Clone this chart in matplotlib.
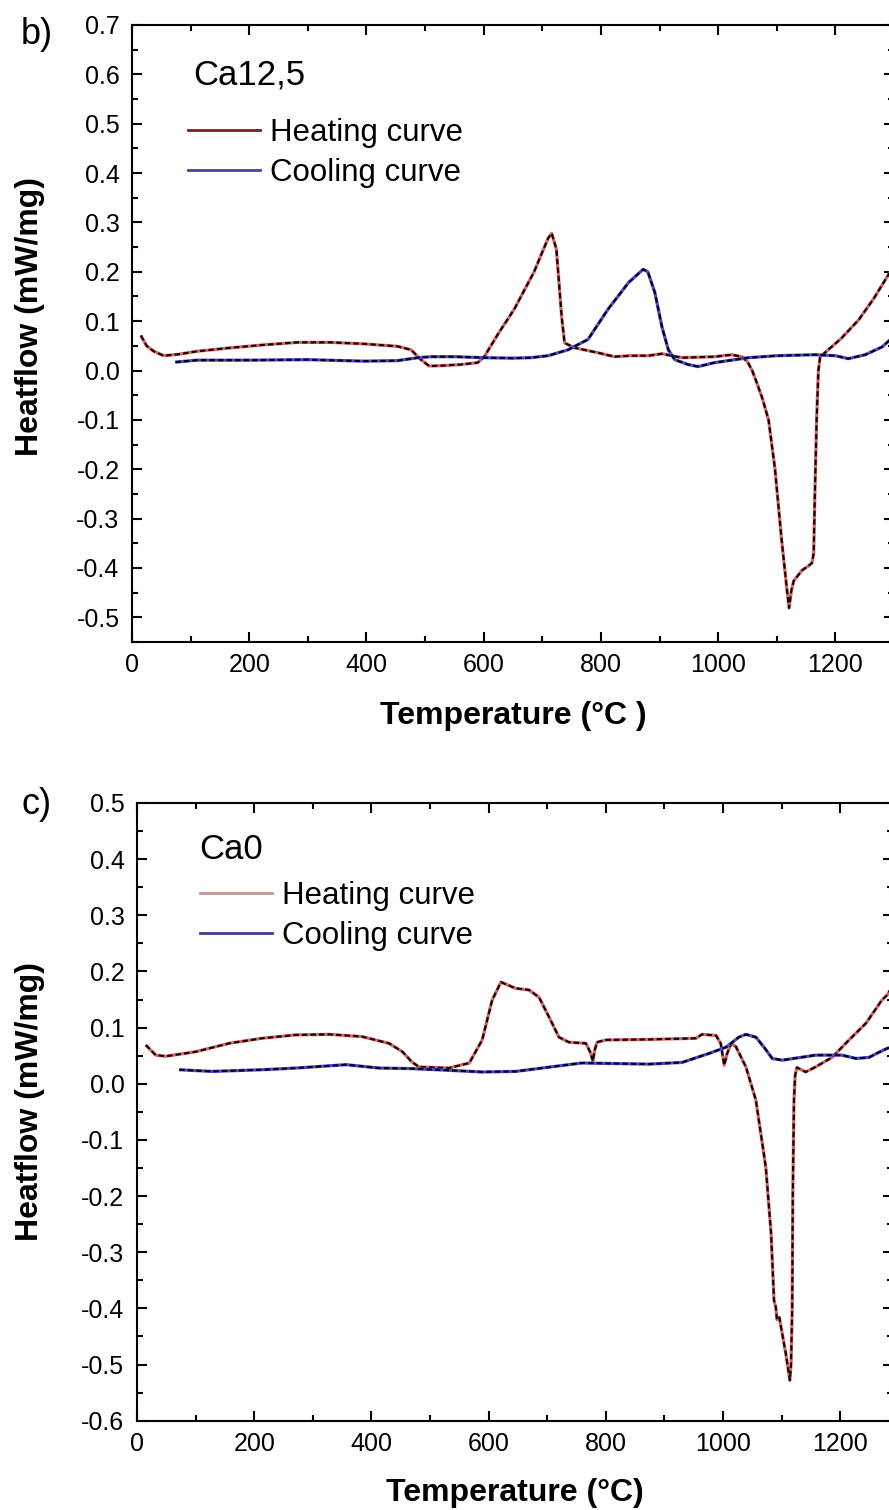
import matplotlib
matplotlib.use("Agg")
import matplotlib.pyplot as plt
from matplotlib.lines import Line2D
from matplotlib.ticker import MultipleLocator

plt.rcParams['font.family'] = ['Liberation Sans', 'DejaVu Sans']

# ---------------- data: panel b (Ca12,5) ----------------
b_heat_T = [15, 25, 37, 54, 80, 111, 168, 225, 282, 339, 396, 453, 476, 493, 507,
            530, 560, 590, 601, 625, 652, 686, 700, 710, 716, 724, 733, 738, 755,
            795, 823, 850, 881, 904, 938, 994, 1023, 1040, 1050, 1058, 1066, 1075,
            1086, 1097, 1108, 1117, 1121, 1125, 1129, 1143, 1155, 1160, 1163, 1165,
            1168, 1171, 1174, 1182, 1210, 1240, 1265, 1291, 1300]
b_heat_v = [0.071, 0.050, 0.039, 0.030, 0.033, 0.039, 0.046, 0.052, 0.057, 0.057,
            0.054, 0.049, 0.042, 0.022, 0.009, 0.010, 0.012, 0.016, 0.028, 0.075,
            0.124, 0.200, 0.240, 0.268, 0.278, 0.246, 0.109, 0.056, 0.046, 0.036,
            0.028, 0.030, 0.030, 0.034, 0.026, 0.028, 0.032, 0.028, 0.018, 0.000,
            -0.025, -0.055, -0.100, -0.200, -0.340, -0.440, -0.481, -0.445, -0.426,
            -0.405, -0.395, -0.390, -0.370, -0.250, -0.100, 0.000, 0.028, 0.036,
            0.065, 0.103, 0.145, 0.195, 0.212]

b_cool_T = [74, 111, 200, 300, 396, 453, 488, 510, 550, 600, 650, 680, 710, 744,
            778, 812, 847, 872, 880, 892, 904, 915, 926, 949, 966, 994, 1052, 1100,
            1165, 1200, 1222, 1251, 1280, 1293, 1300]
b_cool_v = [0.017, 0.021, 0.021, 0.022, 0.019, 0.020, 0.026, 0.028, 0.028, 0.026,
            0.025, 0.026, 0.030, 0.042, 0.063, 0.124, 0.178, 0.205, 0.200, 0.158,
            0.089, 0.042, 0.022, 0.012, 0.008, 0.016, 0.026, 0.030, 0.032, 0.030,
            0.024, 0.032, 0.048, 0.062, 0.068]

# ---------------- data: panel c (Ca0) ----------------
c_heat_T = [15, 32, 49, 100, 157, 213, 271, 328, 384, 430, 453, 469, 481, 532, 567,
            589, 606, 621, 646, 669, 686, 703, 720, 737, 766, 774, 778, 781, 785,
            800, 874, 954, 964, 988, 996, 1002, 1007, 1014, 1022, 1039, 1056, 1073,
            1082, 1087, 1090, 1092, 1096, 1107, 1114, 1116, 1118, 1119, 1121, 1123,
            1126, 1141, 1158, 1186, 1215, 1244, 1271, 1280, 1290]
c_heat_v = [0.069, 0.051, 0.049, 0.057, 0.072, 0.081, 0.087, 0.088, 0.084, 0.072,
            0.057, 0.039, 0.030, 0.028, 0.037, 0.078, 0.149, 0.181, 0.170, 0.167,
            0.154, 0.119, 0.083, 0.074, 0.072, 0.055, 0.040, 0.060, 0.074, 0.078,
            0.079, 0.081, 0.088, 0.086, 0.072, 0.033, 0.054, 0.072, 0.066, 0.030,
            -0.029, -0.149, -0.267, -0.386, -0.398, -0.420, -0.416, -0.480, -0.528,
            -0.500, -0.400, -0.200, -0.030, 0.015, 0.029, 0.021, 0.030, 0.047,
            0.078, 0.108, 0.149, 0.158, 0.175]

c_cool_T = [72, 128, 213, 271, 357, 413, 469, 532, 589, 646, 759, 874, 930, 976,
            1005, 1027, 1039, 1056, 1070, 1084, 1101, 1158, 1203, 1227, 1249, 1266,
            1280, 1290]
c_cool_v = [0.025, 0.022, 0.025, 0.028, 0.034, 0.028, 0.027, 0.024, 0.021, 0.022,
            0.037, 0.035, 0.038, 0.054, 0.065, 0.083, 0.088, 0.083, 0.065, 0.045,
            0.042, 0.051, 0.051, 0.045, 0.047, 0.056, 0.063, 0.066]

legend_labels = ["Heating curve", "Cooling curve"]

W, H = 889, 1510
fig = plt.figure(figsize=(W / 100, H / 100), dpi=100)


def px_rect(left, top, right, bottom):
    return [left / W, 1 - bottom / H, (right - left) / W, (bottom - top) / H]


def style_axes(ax, xmax, ylim):
    ax.set_xlim(0, xmax)
    ax.set_ylim(*ylim)
    ax.xaxis.set_major_locator(MultipleLocator(200))
    ax.xaxis.set_minor_locator(MultipleLocator(100))
    ax.yaxis.set_major_locator(MultipleLocator(0.1))
    ax.yaxis.set_minor_locator(MultipleLocator(0.05))
    ax.yaxis.set_major_formatter(matplotlib.ticker.FuncFormatter(
        lambda v, p: f"{v:.1f}".replace("-0.0", "0.0")))
    ax.tick_params(which='both', direction='in', top=True, right=True,
                   width=1.5, labelsize=18)
    ax.tick_params(which='major', length=7)
    ax.tick_params(which='minor', length=4)
    ax.tick_params(axis='y', pad=9)
    ax.tick_params(axis='x', pad=8)
    for s in ax.spines.values():
        s.set_linewidth(1.5)


def draw_curve(ax, T, v, color):
    ax.plot(T, v, color=color, lw=2.3, solid_capstyle='butt')
    ax.plot(T, v, color='black', lw=1.5, linestyle=(0, (2.6, 1.5)))


LEG = dict(loc='upper left', frameon=False, fontsize=22.5, handlelength=2.3,
           handletextpad=0.32, labelspacing=0.33, borderpad=0, borderaxespad=0)

# ---------------- panel b ----------------
axb = fig.add_axes(px_rect(132, 25, 894, 642))
style_axes(axb, 1300, (-0.55, 0.7))
draw_curve(axb, b_heat_T, b_heat_v, '#e06262')
draw_curve(axb, b_cool_T, b_cool_v, '#4a4ad6')
axb.text(0.08, 0.919, "Ca12,5", transform=axb.transAxes, fontsize=25, va='center')
hb = [Line2D([], [], color='#6e2323', lw=2), Line2D([], [], color='#4343a8', lw=2)]
axb.legend(hb, legend_labels, bbox_to_anchor=(0.073, 0.850), **LEG)
axb.set_xlabel("Temperature (°C )", fontsize=23, fontweight='bold', va='center')
axb.xaxis.set_label_coords(0.5, -0.12)
axb.set_ylabel("Heatflow (mW/mg)", fontsize=23, fontweight='bold', va='center')
axb.yaxis.set_label_coords(-0.134, 0.527)
fig.text(37 / W, 1 - 35 / H, "b)", fontsize=26, ha='center', va='center')

# ---------------- panel c ----------------
axc = fig.add_axes(px_rect(137, 803, 893, 1420.7))
style_axes(axc, 1290, (-0.6, 0.5))
draw_curve(axc, c_heat_T, c_heat_v, '#e06262')
draw_curve(axc, c_cool_T, c_cool_v, '#4a4ad6')
axc.text(0.083, 0.924, "Ca0", transform=axc.transAxes, fontsize=25, va='center')
hc = [Line2D([], [], color='#c99494', lw=2), Line2D([], [], color='#3f3f8f', lw=2)]
axc.legend(hc, legend_labels, bbox_to_anchor=(0.083, 0.874), **LEG)
axc.set_xlabel("Temperature (°C)", fontsize=23, fontweight='bold', va='center')
axc.xaxis.set_label_coords(0.5, -0.117)
axc.set_ylabel("Heatflow (mW/mg)", fontsize=23, fontweight='bold', va='center')
axc.yaxis.set_label_coords(-0.1415, 0.516)
fig.text(37 / W, 1 - 805 / H, "c)", fontsize=26, ha='center', va='center')

fig.savefig("out.png", dpi=100)
